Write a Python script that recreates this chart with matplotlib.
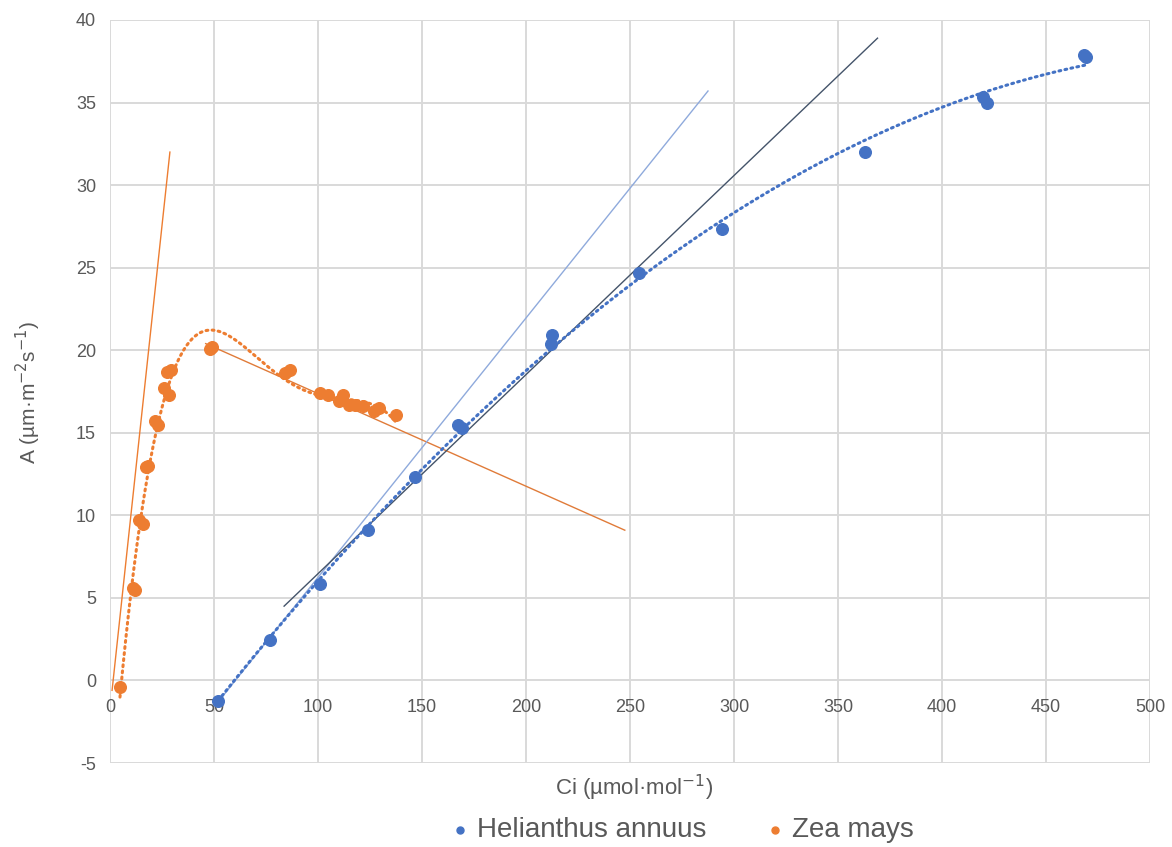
import numpy as np
import matplotlib.pyplot as plt

plt.rcParams['font.family'] = ['Liberation Sans', 'DejaVu Sans']
plt.rcParams['axes.unicode_minus'] = False

# Helianthus annuus (C3)
ha_ci = [52, 77, 101, 124, 146.5, 167.5, 169, 212, 212.5, 254.5, 294, 363, 419.5, 421.5, 468.5, 469]
ha_a = [-1.25, 2.45, 5.85, 9.1, 12.3, 15.45, 15.3, 20.35, 20.9, 24.65, 27.35, 32.0, 35.35, 34.95, 37.85, 37.75]

# Zea mays (C4)
zm_ci = [4.8, 11, 12, 13.9, 16, 17.3, 18.3, 21.6, 23, 26, 28.5, 27.6, 29.3,
         48, 49, 84, 86.5, 101, 105, 110, 112, 115, 118, 121.5, 127, 129.5, 137.5]
zm_a = [-0.4, 5.6, 5.5, 9.7, 9.5, 12.9, 13.0, 15.7, 15.5, 17.7, 17.3, 18.7, 18.8,
        20.1, 20.2, 18.65, 18.8, 17.4, 17.3, 16.9, 17.3, 16.7, 16.7, 16.65, 16.3, 16.5, 16.1]

# hand-drawn reference lines (x endpoints, y endpoints)
zm_slope_x, zm_slope_y = [1, 28.8], [-0.6, 32.0]
zm_decline_x, zm_decline_y = [46, 247.5], [20.4, 9.1]
ha_light_x, ha_light_y = [52, 287.5], [-1.3, 35.7]
ha_dark_x, ha_dark_y = [83.7, 369], [4.5, 38.9]

blue = '#4472C4'
orange = '#ED7D31'
grey = '#595959'

fig = plt.figure(figsize=(11.72, 8.47), dpi=100)
ax = fig.add_axes([110 / 1172, 1 - 763 / 847, 1040 / 1172, 743 / 847])

ax.set_xlim(0, 500)
ax.set_ylim(-5, 40)
ax.set_xticks(np.arange(0, 501, 50))
ax.set_yticks(np.arange(-5, 41, 5))
ax.grid(True, color='#D9D9D9', linewidth=1.4)
ax.set_axisbelow(True)
for s in ax.spines.values():
    s.set_visible(False)
ax.spines['bottom'].set_position(('data', 0))
ax.tick_params(length=0, labelsize=13, labelcolor=grey)
ax.tick_params(axis='x', pad=13)
ax.tick_params(axis='y', pad=10)

# trendlines (polynomial, like the spreadsheet's)
zm_fit = np.polyfit(zm_ci, zm_a, 4)
zx = np.linspace(min(zm_ci), max(zm_ci), 200)
ha_fit = np.polyfit(ha_ci, ha_a, 2)
hx = np.linspace(min(ha_ci), max(ha_ci), 200)

ax.plot(zm_slope_x, zm_slope_y, color=orange, lw=1.0, zorder=2)
ax.plot(zm_decline_x, zm_decline_y, color='#E07B39', lw=1.0, zorder=2)
ax.plot(ha_light_x, ha_light_y, color='#8FAADC', lw=1.0, zorder=2)
ax.plot(ha_dark_x, ha_dark_y, color='#44546A', lw=1.0, zorder=2)

ax.scatter(ha_ci, ha_a, s=70, color=blue, zorder=3, label='Helianthus annuus')
ax.scatter(zm_ci, zm_a, s=70, color=orange, zorder=3, label='Zea mays')

ax.plot(zx, np.polyval(zm_fit, zx), color=orange, lw=2.2, linestyle=(0, (0.6, 1.4)),
        dash_capstyle='round', zorder=4)
ax.plot(hx, np.polyval(ha_fit, hx), color=blue, lw=2.2, linestyle=(0, (0.6, 1.4)),
        dash_capstyle='round', zorder=4)

fig.text(634 / 1172, 1 - 788 / 847, 'Ci (µmol·mol$^{-1}$)', fontsize=16, color=grey,
         ha='center', va='center')
fig.text(28 / 1172, 1 - 392 / 847, 'A (µm·m$^{-2}$s$^{-1}$)', fontsize=15, color=grey,
         ha='center', va='center', rotation=90)

fig.legend(loc='center', bbox_to_anchor=(680 / 1172, 1 - 830 / 847), ncol=2, frameon=False,
           fontsize=20, labelcolor=grey, markerscale=0.6, handletextpad=0.1,
           columnspacing=2.0, handlelength=1.0)

fig.savefig('out.png', dpi=100)
